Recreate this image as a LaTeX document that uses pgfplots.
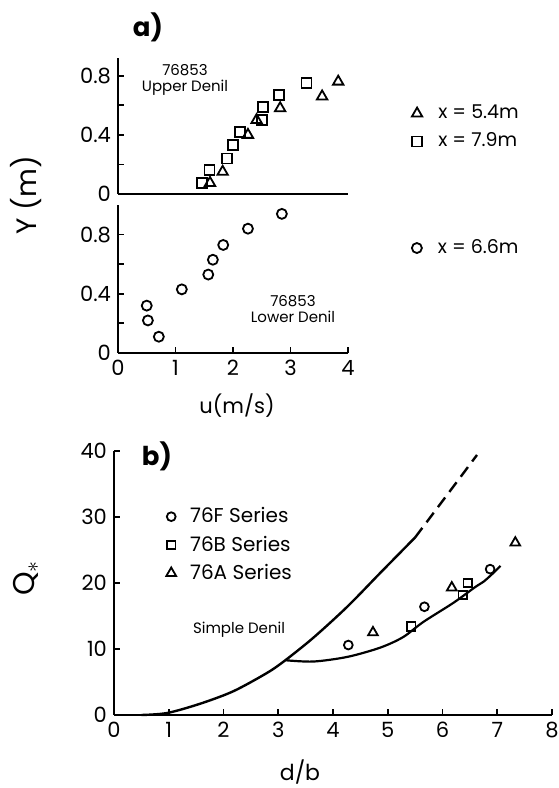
\documentclass[border=0pt]{standalone}
\usepackage{pgfplots}
\pgfplotsset{compat=1.18}
\usepackage{fontspec}
\setmainfont{Poppins}
\pgfplotsset{
  base/.style={
    scale only axis, axis lines=left, axis line style={-, line width=1pt},
    tick style={black, line width=0.9pt}, major tick length=3pt, minor tick length=3pt,
    tick align=inside,
    ticklabel style={font=\fontsize{10.5}{11}\selectfont},
    /pgf/number format/assume math mode=true,
    clip=false,
    legend cell align=left,
    legend image code/.code={\draw[#1, mark repeat=2, mark phase=2] plot coordinates {(0pt,0pt) (4pt,0pt) (8pt,0pt)};},
  },
  leg/.style={legend style={draw=none, fill=none, anchor=north west,
    nodes={inner sep=1pt}, /tikz/every odd column/.append style={column sep=#1}}},
  tri/.style={only marks, mark=triangle, mark size=3pt, mark options={line width=0.9pt, fill=white, draw=black}},
  sq/.style={only marks, mark=square, mark size=2.5pt, mark options={line width=0.9pt, fill=white, draw=black}},
  cir/.style={only marks, mark=o, mark size=2.5pt, mark options={line width=0.9pt, fill=white, draw=black}},
}
\begin{document}
\begin{tikzpicture}
\path[use as bounding box] (0,0) rectangle (279pt,394pt);
% ---------------- panel a, upper -----------------
\begin{axis}[base, leg=7pt,
  at={(59pt,297pt)}, anchor=south west,
  width=115pt, height=68pt,
  xmin=0, xmax=4, ymin=0, ymax=0.92,
  xtick=\empty, ytick={0,0.4,0.8}, minor ytick={0.2,0.6},
  legend style={at={(1.25,0.70)}, font=\fontsize{9.5}{10}\selectfont, row sep=3.5pt},
]
\addplot[tri] coordinates {
(1.60,0.075) (1.82,0.15) (2.26,0.40) (2.41,0.50) (2.82,0.58) (3.55,0.66) (3.83,0.76)
};
\addlegendentry{x = 5.4m}
\addplot[sq] coordinates {
(1.46,0.075) (1.59,0.16) (1.90,0.24) (2.00,0.33) (2.12,0.42) (2.50,0.50) (2.52,0.59) (2.80,0.67) (3.28,0.75)
};
\addlegendentry{x = 7.9m}
\end{axis}
% ---------------- panel a, lower -----------------
\begin{axis}[base, leg=7pt,
  at={(59pt,217.5pt)}, anchor=south west,
  width=115pt, height=74pt,
  xmin=0, xmax=4, ymin=0, ymax=1.0,
  xtick={0,1,2,3,4}, ytick={0,0.4,0.8}, minor ytick={0.2,0.6},
  legend style={at={(1.25,0.81)}, font=\fontsize{9.5}{10}\selectfont},
]
\addplot[cir] coordinates {
(0.50,0.32) (0.52,0.22) (0.71,0.11) (1.11,0.43) (1.57,0.53) (1.65,0.63) (1.83,0.73) (2.26,0.84) (2.85,0.94)
};
\addlegendentry{x = 6.6m}
\end{axis}
% ---------------- panel b -----------------
\begin{axis}[base, leg=6pt,
  at={(57pt,36.5pt)}, anchor=south west,
  width=219pt, height=132pt,
  xmin=0, xmax=8, ymin=0, ymax=40,
  xtick={0,1,...,8}, ytick={0,10,20,30,40},
  legend style={at={(0.105,0.81)}, font=\fontsize{10}{11}\selectfont, row sep=3pt},
]
\addplot[black, line width=1.2pt, smooth, forget plot] coordinates {
(0.5,0) (0.97,0.3) (1.57,1.7) (2.18,3.6) (2.80,6.4) (3.13,8.3) (3.64,11.7) (4.26,16.4) (4.86,21.5) (5.50,26.9)
};
\addplot[black, line width=1.2pt, dash pattern=on 6pt off 3.5pt, smooth, forget plot] coordinates {
(5.50,26.9) (6.08,33.3) (6.63,39.4)
};
\addplot[black, line width=1.1pt, smooth, forget plot] coordinates {
(3.13,8.3) (3.64,8.1) (4.26,8.8) (4.86,10.2) (5.28,11.8) (5.65,14.1) (6.2,17.0) (6.6,19.4) (6.75,20.2) (6.9,21.3) (7.06,22.6)
};
\addplot[cir, mark size=2.2pt] coordinates {(4.28,10.6) (5.67,16.4) (6.87,22.1)};
\addlegendentry{76F Series}
\addplot[sq, mark size=2.1pt] coordinates {(5.43,13.4) (6.37,18.2) (6.46,20.0)};
\addlegendentry{76B Series}
\addplot[tri, mark size=2.8pt] coordinates {(4.73,12.5) (6.17,19.3) (7.33,26.1)};
\addlegendentry{76A Series}
\end{axis}
% ---------------- text -----------------
\node[font=\bfseries\fontsize{13}{14}\selectfont] at (74pt,380.5pt) {a)};
\node[font=\bfseries\fontsize{13}{14}\selectfont] at (78.5pt,166pt) {b)};
\node[font=\fontsize{14}{15}\selectfont, rotate=90] at (13pt,296.5pt) {Y (m)};
\node[font=\fontsize{10.5}{12}\selectfont] at (118.5pt,191pt) {u(m/s)};
\node[font=\fontsize{15}{16}\selectfont, rotate=90] at (13pt,105pt) {Q$_{*}$};
\node[font=\fontsize{11}{12}\selectfont] at (150pt,8pt) {d/b};
\node[font=\fontsize{7.5}{9}\selectfont, align=center] at (92.5pt,354pt) {76853\\[-1pt]Upper Denil};
\node[font=\fontsize{7.5}{9}\selectfont, align=center] at (146.5pt,239.5pt) {76853\\[-1pt]Lower Denil};
\node[font=\fontsize{7.5}{9}\selectfont] at (119.5pt,79pt) {Simple Denil};
\end{tikzpicture}
\end{document}
